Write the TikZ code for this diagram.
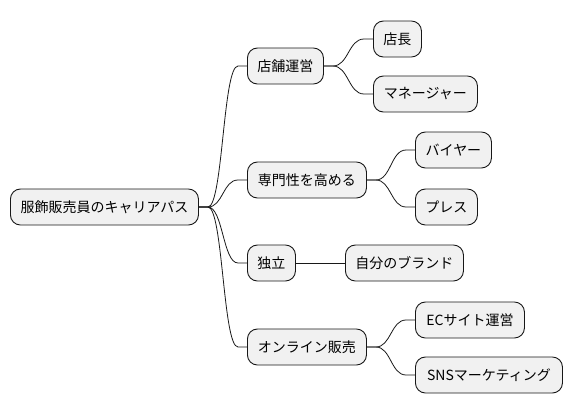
\documentclass[tikz,border=0pt]{standalone}
\usepackage{fontspec}
\setmainfont{Noto Sans CJK JP}
\usetikzlibrary{calc}
\definecolor{boxfill}{HTML}{F1F1F1}
\definecolor{boxline}{HTML}{181818}
\begin{document}
\begin{tikzpicture}[x=1pt,y=-1pt,
  box/.style={draw=boxline, fill=boxfill, line width=0.9pt, rounded corners=10pt,
    anchor=west, minimum height=36pt, inner sep=0pt,
    font=\fontsize{14}{16}\selectfont},
  link/.style={draw=boxline, line width=0.8pt}]
\useasboundingbox (0,0) rectangle (573,415);
\node[box, minimum width=188pt] (root) at (10,207) {服飾販売員のキャリアパス};
\node[box, minimum width=76pt] (tenpo) at (247,66) {店舗運営};
\node[box, minimum width=48pt] (tencho) at (373,39) {店長};
\node[box, minimum width=104pt] (mgr) at (373,94) {マネージャー};
\node[box, minimum width=119pt] (senmon) at (247,180) {専門性を高める};
\node[box, minimum width=76pt] (buyer) at (415,150) {バイヤー};
\node[box, minimum width=62pt] (press) at (415,207) {プレス};
\node[box, minimum width=48pt] (dokuritsu) at (247,263) {独立};
\node[box, minimum width=118pt] (brand) at (345,263) {自分のブランド};
\node[box, minimum width=119pt] (online) at (247,347) {オンライン販売};
\node[box, minimum width=109pt] (ec) at (415,320) {ECサイト運営};
\node[box, minimum width=147pt] (sns) at (415,375) {SNSマーケティング};
\foreach \a/\b in {root/tenpo, root/senmon, root/dokuritsu, root/online,
  tenpo/tencho, tenpo/mgr, senmon/buyer, senmon/press, online/ec, online/sns}{
  \coordinate (p) at ($(\a.east)+(9,0)$);
  \coordinate (q) at ($(\b.west)+(-9,0)$);
  \coordinate (m) at ($(p)!0.5!(q)$);
  \draw[link] (\a.east) -- (p) .. controls (m |- p) and (m |- q) .. (q) -- (\b.west);
}
\draw[link] (dokuritsu) -- (brand);
\end{tikzpicture}
\end{document}
